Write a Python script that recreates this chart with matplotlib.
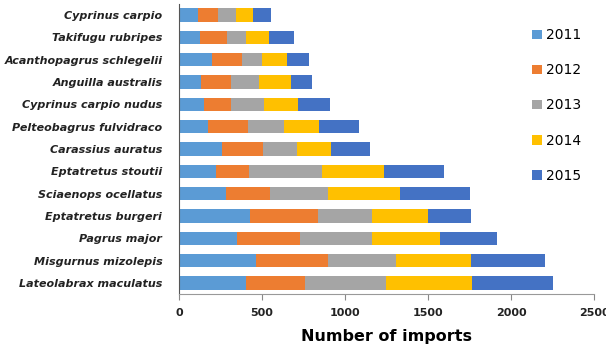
import numpy as np
from matplotlib import pyplot as plt

### Data
species = ['Lateolabrax maculatus', 'Misgurnus mizolepis', 'Pagrus major',
           'Eptatretus burgeri', 'Sciaenops ocellatus', 'Eptatretus stoutii',
           'Carassius auratus', 'Pelteobagrus fulvidraco', 'Cyprinus carpio nudus',
           'Anguilla australis', 'Acanthopagrus schlegelii', 'Takifugu rubripes',
           'Cyprinus carpio']
years = ['2011', '2012', '2013', '2014', '2015']
v2011 = [403, 464, 349, 427, 283, 223, 259, 175, 150, 132, 199, 126, 114]
v2012 = [356, 433, 379, 410, 265, 198, 247, 240, 163, 181, 180, 163, 121]
v2013 = [487, 409, 434, 325, 349, 440, 204, 217, 199, 169, 121, 114, 108]
v2014 = [518, 452, 409, 337, 433, 373, 205, 211, 204, 192, 150, 139, 102]
v2015 = [487, 445, 343, 259, 422, 361, 235, 241, 193, 127, 133, 150, 109]
colors = ['#5B9BD5', '#ED7D31', '#A5A5A5', '#FFC000', '#4472C4']

series = [v2011, v2012, v2013, v2014, v2015]

### Plot
fig = plt.figure(figsize=(6.06, 3.5), dpi=100)
ax = fig.add_axes([0.2954, 0.16, 0.685, 0.829])
y = np.arange(len(species))
left = np.zeros(len(species))
for yr, vals, c in zip(years, series, colors):
    ax.barh(y, vals, left=left, height=0.6, color=c, label=yr)
    left += np.array(vals)

ax.set_ylim(-0.5, len(species) - 0.5)
ax.set_xlim(0, 2500)
ax.set_xticks([0, 500, 1000, 1500, 2000, 2500])
ax.set_yticks(y)
ax.set_yticklabels(species, fontsize=8, fontweight='bold', style='italic', color='#222222')
ax.tick_params(axis='y', length=0, pad=12)
ax.tick_params(axis='x', length=4, color='#888888', labelsize=8, pad=6)
for lab in ax.get_xticklabels():
    lab.set_fontweight('bold')
    lab.set_color('#222222')
ax.spines['top'].set_visible(False)
ax.spines['right'].set_visible(False)
ax.spines['left'].set_color('#555555')
ax.spines['bottom'].set_color('#999999')
ax.set_xlabel('Number of imports', fontsize=11.5, fontweight='bold', labelpad=8)

fig.legend(loc='upper left', bbox_to_anchor=(0.858, 0.955), frameon=False,
           fontsize=10, handlelength=0.7, handleheight=0.7, handletextpad=0.3,
           labelspacing=1.52)

fig.savefig('out.png', dpi=100)
